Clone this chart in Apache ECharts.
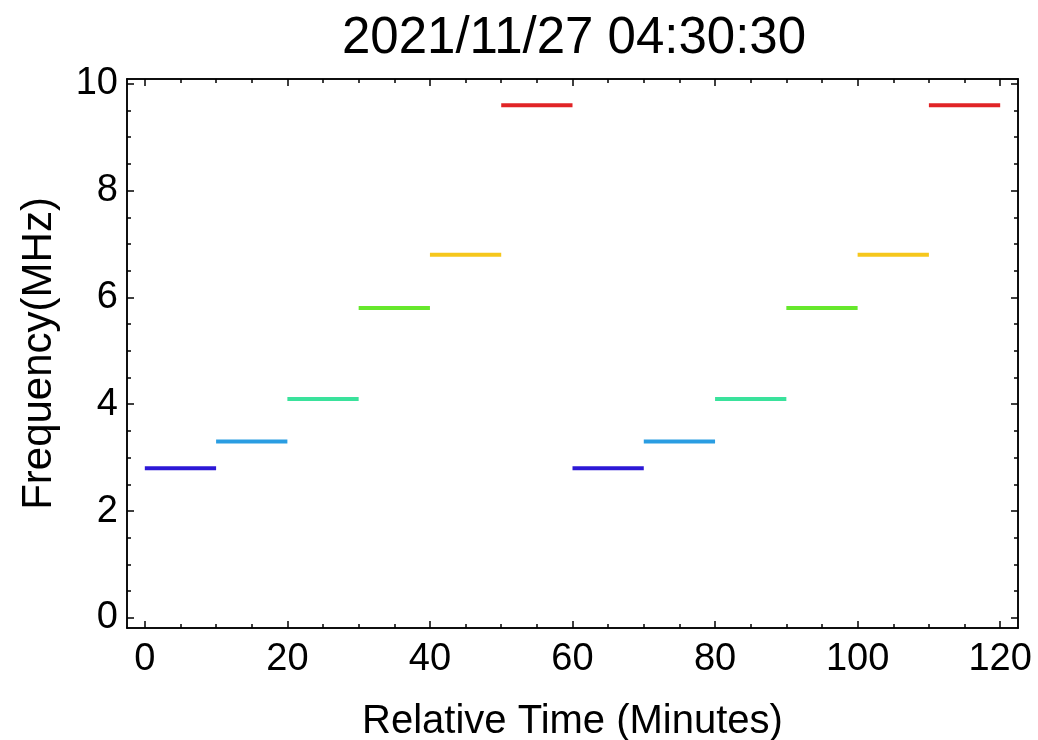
<!DOCTYPE html>
<html><head><meta charset="utf-8">
<script src="https://cdn.jsdelivr.net/npm/echarts@6/dist/echarts.min.js"></script>
<style>html,body{margin:0;padding:0;background:#fff}#c{width:1038px;height:740px}</style>
</head><body><div id="c"></div>
<script>
const title = '2021/11/27 04:30:30';
const segStart = [0, 10, 20, 30, 40, 50, 60, 70, 80, 90, 100, 110];
const segEnd   = [10, 20, 30, 40, 50, 60, 70, 80, 90, 100, 110, 120];
const freq     = [2.8, 3.3, 4.1, 5.8, 6.8, 9.6, 2.8, 3.3, 4.1, 5.8, 6.8, 9.6];
const xMajorTicks = [0, 20, 40, 60, 80, 100, 120];
const xMinorTicks = [0,5,10,15,20,25,30,35,40,45,50,55,60,65,70,75,80,85,90,95,100,105,110,115,120];
const yMajorTicks = [0, 2, 4, 6, 8, 10];
const yMinorTicks = [0,0.5,1,1.5,2,2.5,3,3.5,4,4.5,5,5.5,6,6.5,7,7.5,8,8.5,9,9.5,10];
const colors = ['#2c18d6', '#2a9de2', '#3ae29c', '#66e82c', '#f6c71c', '#e12426'];

const FONT = 'Liberation Sans, Arial, sans-serif';
const xMin = -2.5, xMax = 122.5, yMin = -0.19, yMax = 10.09;

function xAx(pos, ticks, len, withLabels) {
  return {
    type: 'value', position: pos, min: xMin, max: xMax,
    axisLine: { show: true, onZero: false, lineStyle: { color: '#000', width: 1.5 } },
    axisTick: { show: true, inside: true, length: len, customValues: ticks, lineStyle: { color: '#000', width: 1.5 } },
    axisLabel: withLabels ? { show: true, customValues: ticks, color: '#000', fontSize: 38, fontFamily: FONT, margin: 13 } : { show: false },
    splitLine: { show: false },
    name: withLabels ? 'Relative Time (Minutes)' : '',
    nameLocation: 'middle', nameGap: 74,
    nameTextStyle: { color: '#000', fontSize: 40, fontFamily: FONT }
  };
}
function yAx(pos, ticks, len, withLabels) {
  return {
    type: 'value', position: pos, min: yMin, max: yMax,
    axisLine: { show: true, onZero: false, lineStyle: { color: '#000', width: 1.5 } },
    axisTick: { show: true, inside: true, length: len, customValues: ticks, lineStyle: { color: '#000', width: 1.5 } },
    axisLabel: withLabels ? { show: true, customValues: ticks, color: '#000', fontSize: 38, fontFamily: FONT, margin: 9 } : { show: false },
    splitLine: { show: false },
    name: withLabels ? 'Frequency(MHz)' : '',
    nameLocation: 'middle', nameGap: 67,
    nameTextStyle: { color: '#000', fontSize: 42, fontFamily: FONT }
  };
}

const series = segStart.map((s, i) => ({
  type: 'line', xAxisIndex: 0, yAxisIndex: 0,
  data: [[s, freq[i]], [segEnd[i], freq[i]]],
  showSymbol: false, symbol: 'none', silent: true,
  lineStyle: { color: colors[i % colors.length], width: 4 },
  animation: false
}));

const chart = echarts.init(document.getElementById('c'), null, { renderer: 'canvas' });
chart.setOption({
  animation: false,
  backgroundColor: '#fff',
  title: { text: title, left: 569, top: 8, textAlign: 'center',
           textStyle: { color: '#000', fontSize: 51, fontWeight: 'normal', fontFamily: FONT } },
  grid: { left: 127, top: 79, right: 20, bottom: 112, containLabel: false, outerBoundsMode: 'none' },
  xAxis: [xAx('bottom', xMajorTicks, 7, true), xAx('bottom', xMinorTicks, 4, false),
          xAx('top', xMajorTicks, 7, false), xAx('top', xMinorTicks, 4, false)],
  yAxis: [yAx('left', yMajorTicks, 7, true), yAx('left', yMinorTicks, 4, false),
          yAx('right', yMajorTicks, 7, false), yAx('right', yMinorTicks, 4, false)],
  series: series
});
</script></body></html>
